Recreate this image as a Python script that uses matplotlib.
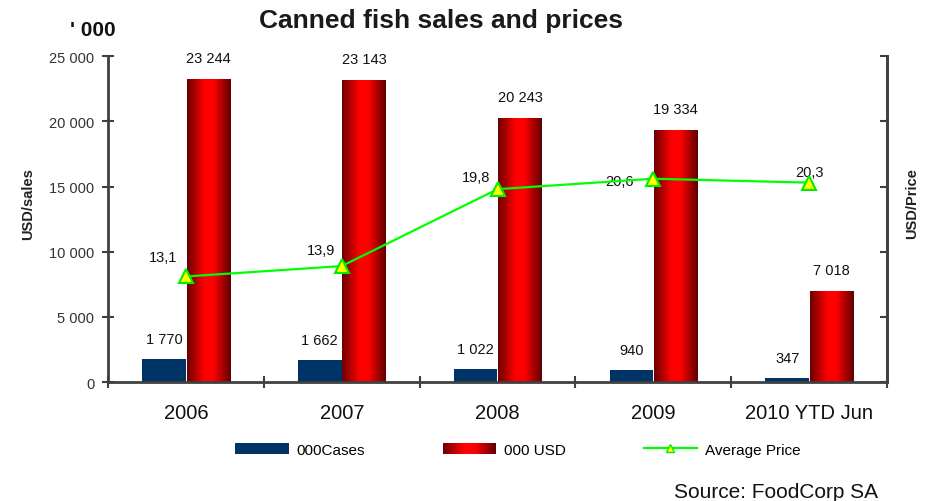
import matplotlib.pyplot as plt
import numpy as np
from matplotlib.colors import LinearSegmentedColormap
from matplotlib.patches import Rectangle
from matplotlib.lines import Line2D
from matplotlib.legend_handler import HandlerBase

plt.rcParams['font.family'] = ['Liberation Sans', 'DejaVu Sans']

# dados
years = ["2006", "2007", "2008", "2009", "2010 YTD Jun"]
cases = [1770, 1662, 1022, 940, 347]
usd = [23244, 23143, 20243, 19334, 7018]
avg_price = [13.1, 13.9, 19.8, 20.6, 20.3]
cases_labels = ["1 770", "1 662", "1 022", "940", "347"]
usd_labels = ["23 244", "23 143", "20 243", "19 334", "7 018"]
price_labels = ["13,1", "13,9", "19,8", "20,6", "20,3"]
yticks = [0, 5000, 10000, 15000, 20000, 25000]
ytick_labels = ["0", "5 000", "10 000", "15 000", "20 000", "25 000"]

# deslocamento dos rótulos de preço (pixels)
price_offsets = [(-23, 19), (-21, 16), (-22, 12), (-34, -2), (0, 11)]

NAVY = "#003366"
AXC = "#404040"
red_cmap = LinearSegmentedColormap.from_list(
    "redbar", [(0.0, "#6a0000"), (0.4, "#ff0000"), (0.6, "#ff0000"), (1.0, "#5e0000")])


class GradHandler(HandlerBase):
    """Retângulo com gradiente para a legenda."""
    def create_artists(self, legend, orig_handle, xdescent, ydescent, width, height, fontsize, trans):
        n = 40
        arts = []
        for i in range(n):
            r = Rectangle((-xdescent + i * width / n, -ydescent), width / n * 1.1, height,
                          facecolor=red_cmap((i + 0.5) / n), edgecolor='none', transform=trans)
            arts.append(r)
        return arts


fig = plt.figure(figsize=(9.33, 5.02), dpi=100)
ax = fig.add_axes([0.1158, 0.237, 0.835, 0.649])

x = np.arange(len(years))
w = 0.28
navy_bars = ax.bar(x - 0.141, cases, width=w, color=NAVY, zorder=2)
red_bars = ax.bar(x + 0.144, usd, width=w, color='none', zorder=2)

grad = np.linspace(0, 1, 256).reshape(1, -1)
for b in red_bars:
    bx, by, bw, bh = b.get_x(), b.get_y(), b.get_width(), b.get_height()
    im = ax.imshow(grad, extent=[bx, bx + bw, by, by + bh], aspect='auto', cmap=red_cmap,
                   zorder=2, interpolation='bilinear')
    im.set_clip_path(b)

for b, lab in zip(navy_bars, cases_labels):
    ax.annotate(lab, (b.get_x() + b.get_width() / 2, b.get_height()), xytext=(0, 20),
                textcoords='offset pixels', ha='center', va='center', fontsize=10.5, color='#111111')
for b, lab in zip(red_bars, usd_labels):
    ax.annotate(lab, (b.get_x() + b.get_width() / 2, b.get_height()), xytext=(0, 21),
                textcoords='offset pixels', ha='center', va='center', fontsize=10.5, color='#111111')

ax.set_xlim(-0.5, len(years) - 0.5)
ax.set_ylim(0, 25000)
ax.set_yticks(yticks)
ax.set_yticklabels(ytick_labels, fontsize=10.5, color='#333333')
ax.set_xticks(np.arange(-0.5, len(years), 1.0))
ax.set_xticklabels([])
ax.set_xticks(x, minor=True)
ax.set_xticklabels(years, minor=True, fontsize=14.5, color='#111111')
ax.tick_params(axis='x', which='minor', length=0, pad=15)
ax.tick_params(axis='x', which='major', direction='inout', length=9, width=1.5, color=AXC)
ax.tick_params(axis='y', direction='inout', length=8, width=1.5, color=AXC, pad=6)
ax.set_ylabel("USD/sales", fontsize=10.5, fontweight='bold', color='#222222')
ax.yaxis.set_label_coords(-0.094, 0.55)
for s in ['top']:
    ax.spines[s].set_visible(False)
for s in ['left', 'bottom', 'right']:
    ax.spines[s].set_color(AXC)
    ax.spines[s].set_linewidth(2)

ax2 = ax.twinx()
ax2.set_ylim(5, 30)
ax2.set_yticks(np.arange(5, 31, 5))
ax2.set_yticklabels([])
ax2.tick_params(axis='y', direction='in', length=5, width=1.5, color=AXC)
ax2.spines['top'].set_visible(False)
ax2.spines['right'].set_color(AXC)
ax2.spines['right'].set_linewidth(2)
ax2.spines['left'].set_visible(False)
ax2.spines['bottom'].set_visible(False)
ax2.set_ylabel("USD/Price", fontsize=10.5, fontweight='bold', color='#222222')
ax2.yaxis.set_label_coords(1.023, 0.55)

ax2.plot(x, avg_price, color='#00ff00', lw=1.6, marker='^', markersize=10,
         markerfacecolor='#ffff00', markeredgecolor='#00ee00', markeredgewidth=1.5, zorder=5)
for xi, v, lab, off in zip(x, avg_price, price_labels, price_offsets):
    ax2.annotate(lab, (xi, v), xytext=off, textcoords='offset pixels', ha='center', va='center',
                 fontsize=10.5, color='#111111')

fig.text(0.473, 0.958, "Canned fish sales and prices", ha='center', va='center',
         fontsize=19, fontweight='bold', color='#1a1a1a')
fig.text(0.099, 0.94, "' 000", ha='center', va='center', fontsize=15, fontweight='bold', color='#111111')
fig.text(0.941, 0.019, "Source: FoodCorp SA", ha='right', va='center', fontsize=15, color='#111111')

h_cases = Rectangle((0, 0), 1, 1, facecolor=NAVY)
h_usd = Rectangle((0, 0), 1, 1, facecolor='red')
h_price = Line2D([], [], color='#00ff00', lw=1.6, marker='^', markersize=6,
                 markerfacecolor='#ffff00', markeredgecolor='#00ee00')
fig.legend([h_cases, h_usd, h_price], ["000Cases", "000 USD", "Average Price"],
           handler_map={h_usd: GradHandler()}, loc='center', bbox_to_anchor=(0.555, 0.102),
           ncol=3, frameon=False, fontsize=11, handlelength=3.5, columnspacing=5.1,
           handletextpad=0.5)

plt.savefig("out.png", dpi=100)
plt.close()
